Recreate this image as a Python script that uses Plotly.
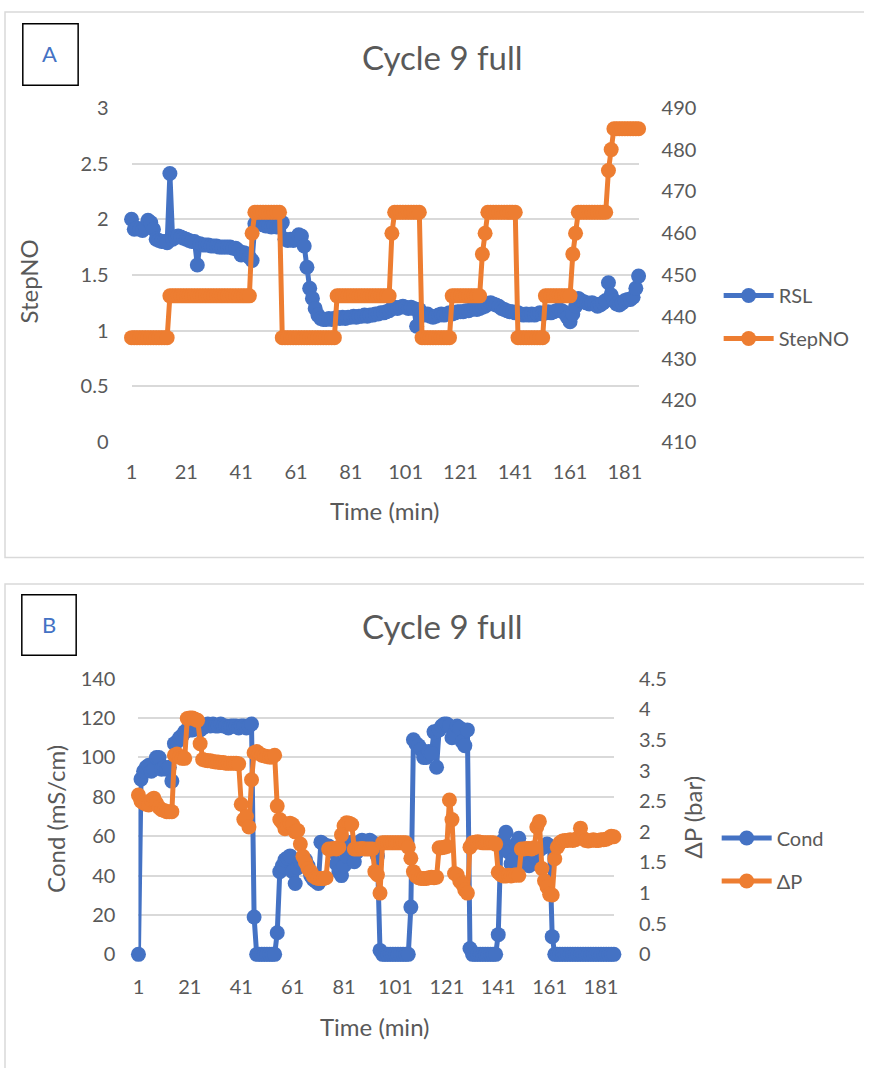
import plotly.graph_objects as go

# ---------------- DATA ----------------
time_idx = list(range(1, 187))
x_ticks = [1, 21, 41, 61, 81, 101, 121, 141, 161, 181]

rsl = [
    2.00, 1.91, 1.92, 1.91, 1.90, 1.93, 1.99, 1.97, 1.91, 1.82,
    1.81, 1.80, 1.80, 1.79, 2.41, 1.82, 1.84, 1.85, 1.84, 1.83,
    1.82, 1.81, 1.80, 1.80, 1.59, 1.78, 1.77, 1.77, 1.77, 1.76,
    1.76, 1.76, 1.75, 1.75, 1.75, 1.75, 1.75, 1.74, 1.74, 1.72,
    1.68, 1.70, 1.69, 1.66, 1.63, 1.96, 1.99, 1.97, 1.95, 1.94,
    1.94, 1.93, 1.94, 1.93, 1.94, 1.97, 1.82, 1.81, 1.82, 1.81,
    1.83, 1.86, 1.85, 1.76, 1.57, 1.38, 1.29, 1.20, 1.14, 1.11,
    1.10, 1.10, 1.11, 1.10, 1.11, 1.12, 1.11, 1.12, 1.11, 1.12,
    1.12, 1.13, 1.12, 1.13, 1.13, 1.14, 1.13, 1.14, 1.14, 1.15,
    1.15, 1.16, 1.16, 1.17, 1.18, 1.20, 1.21, 1.20, 1.21, 1.22,
    1.21, 1.20, 1.21, 1.20, 1.04, 1.19, 1.15, 1.14, 1.15, 1.13,
    1.12, 1.13, 1.14, 1.15, 1.14, 1.15, 1.16, 1.15, 1.16, 1.17,
    1.17, 1.17, 1.18, 1.18, 1.19, 1.20, 1.19, 1.20, 1.21, 1.22,
    1.24, 1.25, 1.24, 1.23, 1.22, 1.20, 1.19, 1.18, 1.17, 1.17,
    1.16, 1.16, 1.15, 1.14, 1.15, 1.14, 1.15, 1.14, 1.15, 1.16,
    1.15, 1.16, 1.17, 1.16, 1.17, 1.18, 1.19, 1.18, 1.16, 1.12,
    1.08, 1.15, 1.22, 1.29, 1.27, 1.26, 1.25, 1.24, 1.25, 1.24,
    1.22, 1.23, 1.25, 1.27, 1.43, 1.32, 1.27, 1.24, 1.23, 1.25,
    1.27, 1.28, 1.28, 1.30, 1.38, 1.49,
]

step_no = (
    [435] * 14 + [445] * 30 + [460] + [465] * 10 + [435] * 20 + [445] * 20
    + [460] + [465] * 10 + [435] * 11 + [445] * 11 + [455, 460] + [465] * 11
    + [435] * 10 + [445] * 10 + [455, 460] + [465] * 11 + [475, 480] + [485] * 10
)

cond = [
    0, 89, 93, 95, 96, 93, 94, 100, 100, 94,
    95, 94, 95, 88, 107, 108, 110, 111, 113, 114,
    114, 114, 115, 116, 114, 115, 116, 117, 116, 117,
    116, 116, 117, 116, 116, 115, 116, 116, 116, 115,
    116, 116, 115, 116, 117, 19, 0, 0, 0, 0,
    0, 0, 0, 0, 11, 42, 45, 48, 49, 50,
    42, 36, 44, 47, 49, 48, 45, 40, 38, 37,
    36, 57, 56, 55, 55, 54, 52, 46, 42, 40,
    45, 50, 56, 57, 47, 52, 57, 58, 57, 57,
    58, 57, 54, 50, 2, 0, 0, 0, 0, 0,
    0, 0, 0, 0, 0, 0, 24, 109, 107, 106,
    104, 100, 100, 103, 102, 113, 95, 114, 116, 117,
    117, 116, 110, 112, 116, 115, 108, 106, 114, 3,
    0, 0, 0, 0, 0, 0, 0, 0, 0, 0,
    10, 55, 58, 62, 52, 46, 48, 56, 59, 53,
    50, 47, 45, 46, 50, 52, 53, 54, 55, 56,
    55, 9, 0, 0, 0, 0, 0, 0, 0, 0,
    0, 0, 0, 0, 0, 0, 0, 0, 0, 0,
    0, 0, 0, 0, 0, 0,
]

dp = [
    2.60, 2.50, 2.47, 2.45, 2.44, 2.52, 2.55, 2.47, 2.40, 2.36,
    2.35, 2.33, 2.33, 2.33, 3.25, 3.27, 3.22, 3.20, 3.20, 3.85,
    3.86, 3.86, 3.84, 3.82, 3.44, 3.18, 3.17, 3.16, 3.16, 3.15,
    3.14, 3.14, 3.13, 3.13, 3.12, 3.12, 3.12, 3.12, 3.12, 3.11,
    2.45, 2.20, 2.25, 2.08, 2.85, 3.29, 3.31, 3.28, 3.25, 3.24,
    3.23, 3.22, 3.22, 3.25, 2.42, 2.20, 2.15, 2.05, 2.10, 2.14,
    2.12, 2.00, 2.02, 1.80, 1.60, 1.50, 1.40, 1.35, 1.28, 1.25,
    1.24, 1.24, 1.24, 1.25, 1.72, 1.72, 1.73, 1.72, 1.75, 1.95,
    2.10, 2.15, 2.14, 2.12, 1.72, 1.72, 1.72, 1.73, 1.72, 1.72,
    1.72, 1.72, 1.35, 1.30, 1.00, 1.82, 1.82, 1.82, 1.82, 1.82,
    1.82, 1.82, 1.82, 1.82, 1.82, 1.75, 1.57, 1.35, 1.28, 1.25,
    1.24, 1.24, 1.24, 1.25, 1.26, 1.25, 1.26, 1.74, 1.74, 1.75,
    1.76, 2.52, 2.20, 1.32, 1.30, 1.20, 1.15, 1.05, 1.00, 1.75,
    1.82, 1.83, 1.84, 1.83, 1.82, 1.82, 1.82, 1.82, 1.82, 1.80,
    1.34, 1.30, 1.28, 1.28, 1.29, 1.28, 1.29, 1.30, 1.29, 1.72,
    1.72, 1.73, 1.73, 1.72, 1.74, 2.08, 2.17, 1.40, 1.20, 1.10,
    0.98, 0.97, 1.56, 1.75, 1.82, 1.85, 1.86, 1.86, 1.87, 1.86,
    1.87, 1.90, 2.06, 1.90, 1.86, 1.85, 1.86, 1.87, 1.86, 1.86,
    1.87, 1.87, 1.88, 1.90, 1.93, 1.92,
]

# ---------------- STYLE ----------------
PAGE_W, PAGE_H = 880, 1084
BODY_MARGIN = 8  # default browser body margin around the plotly div
W, H = PAGE_W - 2 * BODY_MARGIN, PAGE_H - 2 * BODY_MARGIN
BLUE = "#4472C4"
ORANGE = "#ED7D31"
GRID = "#D9D9D9"
TXT = "#595959"
FONT = "Lato"


def fx(px):
    return (px - BODY_MARGIN) / W


def fy(py):
    return (H - (py - BODY_MARGIN)) / H


line_w = 5
mk = 15

fig = go.Figure()

fig.add_trace(go.Scatter(x=time_idx, y=rsl, name="RSL", mode="lines+markers",
                         line=dict(color=BLUE, width=line_w), marker=dict(size=mk, color=BLUE),
                         xaxis="x", yaxis="y", legend="legend", legendgroup="a1", cliponaxis=False))
fig.add_trace(go.Scatter(x=time_idx, y=step_no, name="StepNO", mode="lines+markers",
                         line=dict(color=ORANGE, width=line_w), marker=dict(size=mk, color=ORANGE),
                         xaxis="x", yaxis="y2", legend="legend", legendgroup="a2", cliponaxis=False))
fig.add_trace(go.Scatter(x=time_idx, y=cond, name="Cond", mode="lines+markers",
                         line=dict(color=BLUE, width=line_w), marker=dict(size=mk, color=BLUE),
                         xaxis="x2", yaxis="y3", legend="legend2", legendgroup="b1", cliponaxis=False))
fig.add_trace(go.Scatter(x=time_idx, y=dp, name="ΔP", mode="lines+markers",
                         line=dict(color=ORANGE, width=line_w), marker=dict(size=mk, color=ORANGE),
                         xaxis="x2", yaxis="y4", legend="legend2", legendgroup="b2", cliponaxis=False))

tickfont = dict(family=FONT, size=20, color=TXT)
hidden_ticks = dict(ticks="outside", tickcolor="rgba(0,0,0,0)")

fig.update_layout(
    width=W, height=H, margin=dict(l=0, r=0, t=0, b=0),
    paper_bgcolor="white", plot_bgcolor="white",
    font=dict(family=FONT, color=TXT),
    xaxis=dict(domain=[fx(135), fx(648)], anchor="y", range=[1, 186], tickvals=x_ticks,
               showgrid=False, zeroline=False, showline=False, tickfont=tickfont,
               ticklen=12, **hidden_ticks),
    yaxis=dict(domain=[fy(447), fy(105)], anchor="x", range=[0, 3], dtick=0.5,
               showgrid=True, gridcolor=GRID, gridwidth=1.5, zeroline=False, showline=False,
               tickfont=tickfont, ticklen=18, **hidden_ticks),
    yaxis2=dict(overlaying="y", side="right", anchor="x", range=[410, 490], dtick=10,
                showgrid=False, zeroline=False, showline=False, tickfont=tickfont,
                ticklen=18, **hidden_ticks),
    xaxis2=dict(domain=[fx(142), fx(623)], anchor="y3", range=[1, 186], tickvals=x_ticks,
                showgrid=False, zeroline=False, showline=False, tickfont=tickfont,
                ticklen=15, **hidden_ticks),
    yaxis3=dict(domain=[fy(971), fy(689)], anchor="x2", range=[0, 140], dtick=20,
                showgrid=True, gridcolor=GRID, gridwidth=1.5, zeroline=False, showline=False,
                tickfont=tickfont, ticklen=18, **hidden_ticks),
    yaxis4=dict(overlaying="y3", side="right", anchor="x2", range=[0, 4.5], dtick=0.5,
                showgrid=False, zeroline=False, showline=False, tickfont=tickfont,
                ticklen=20, **hidden_ticks),
    legend=dict(x=fx(729), y=fy(277), xanchor="left", yanchor="top",
                font=dict(family=FONT, size=20, color=TXT), tracegroupgap=14,
                bgcolor="rgba(0,0,0,0)", itemwidth=50),
    legend2=dict(x=fx(727), y=fy(832), xanchor="left", yanchor="top",
                 font=dict(family=FONT, size=20, color=TXT), tracegroupgap=14,
                 bgcolor="rgba(0,0,0,0)", itemwidth=50),
    showlegend=True,
)

# panel frames and label boxes
shapes = [
    dict(type="rect", xref="paper", yref="paper", x0=fx(7), x1=fx(879), y0=fy(565), y1=fy(7),
         line=dict(color=GRID, width=1.5), fillcolor="rgba(0,0,0,0)", layer="below"),
    dict(type="rect", xref="paper", yref="paper", x0=fx(7), x1=fx(879), y0=fy(1090), y1=fy(592),
         line=dict(color=GRID, width=1.5), fillcolor="rgba(0,0,0,0)", layer="below"),
    dict(type="rect", xref="paper", yref="paper", x0=fx(25), x1=fx(81), y0=fy(82), y1=fy(19),
         line=dict(color="black", width=1.5), fillcolor="rgba(0,0,0,0)"),
    dict(type="rect", xref="paper", yref="paper", x0=fx(24), x1=fx(79), y0=fy(665), y1=fy(603),
         line=dict(color="black", width=1.5), fillcolor="rgba(0,0,0,0)"),
]
fig.update_layout(shapes=shapes)


def ann(text, x, y, size, color=TXT, angle=0):
    fig.add_annotation(text=text, x=fx(x), y=fy(y), xref="paper", yref="paper",
                       showarrow=False, textangle=angle,
                       font=dict(family=FONT, size=size, color=color),
                       xanchor="center", yanchor="middle")


ann("Cycle 9 full", 450, 53, 33)
ann("Cycle 9 full", 450, 635, 33)
ann("A", 52, 49, 22, BLUE)
ann("B", 51, 634, 22, BLUE)
ann("StepNO", 31, 283, 24, angle=-90)
ann("Time (min)", 391, 517, 24)
ann("Cond (mS/cm)", 58, 832, 24, angle=-90)
ann("ΔP (bar)", 703, 830, 24, angle=-90)
ann("Time (min)", 381, 1045, 24)

fig.write_html("out.html")
